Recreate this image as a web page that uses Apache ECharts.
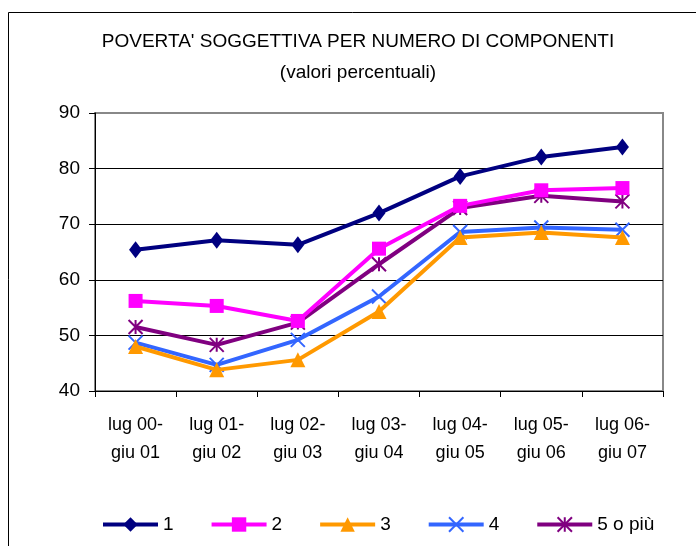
<!DOCTYPE html>
<html lang="it">

<head>
    <meta charset="UTF-8">
    <title>Povertà soggettiva</title>
    <script src="https://cdn.jsdelivr.net/npm/echarts@6/dist/echarts.min.js"></script>
    <style>
        html, body { margin: 0; padding: 0; background: #fff; }
        #app {
            width: 696px;
            height: 546px;
        }
    </style>
</head>

<body>
    <div id="app"></div>
    <script>
        // periodi (asse x)
        let periodi = ['lug 00-\ngiu 01', 'lug 01-\ngiu 02', 'lug 02-\ngiu 03', 'lug 03-\ngiu 04',
            'lug 04-\ngiu 05', 'lug 05-\ngiu 06', 'lug 06-\ngiu 07']
        let nomi = ['1', '2', '3', '4', '5 o più']
        // valori percentuali
        let comp1 = [65.4, 67.1, 66.3, 72.0, 78.6, 82.1, 83.9]
        let comp2 = [56.2, 55.3, 52.6, 65.6, 73.3, 76.1, 76.5]
        let comp3 = [48.0, 43.8, 45.6, 54.3, 67.6, 68.5, 67.6]
        let comp4 = [48.7, 44.7, 49.2, 57.0, 68.6, 69.4, 69.0]
        let comp5 = [51.5, 48.3, 52.3, 62.8, 72.9, 75.1, 74.1]

        let colori = ['#000080', '#ff00ff', '#ff9900', '#3366ff', '#800080']
        let simboli = [
            'diamond',
            'rect',
            'triangle',
            'path://M0,0L10,10M10,0L0,10',
            'path://M5,0L5,10M0,0L10,10M10,0L0,10'
        ]
        let dimensioni = [[13, 17], 14, 15, 14, 14]
        let valori = [comp1, comp2, comp3, comp4, comp5]

        let mCharts = echarts.init(document.getElementById('app'))
        let font = 'Liberation Sans, Arial, sans-serif'

        let series = valori.map((v, i) => {
            let linee = i >= 3
            return {
                name: nomi[i],
                type: 'line',
                data: v,
                symbol: simboli[i],
                symbolSize: dimensioni[i],
                showAllSymbol: true,
                lineStyle: { color: colori[i], width: 4 },
                itemStyle: linee
                    ? { color: colori[i], borderColor: colori[i], borderWidth: 2 }
                    : { color: colori[i], borderWidth: 0 },
                z: 10 - i,
                animation: false
            }
        })

        let option = {
            backgroundColor: '#fff',
            animation: false,
            textStyle: { fontFamily: font },
            title: [{
                text: "POVERTA' SOGGETTIVA PER NUMERO DI COMPONENTI",
                left: 353,
                top: 27,
                textAlign: 'center',
                textStyle: { fontSize: 19, fontWeight: 'normal', color: '#000', fontFamily: font }
            }, {
                text: '(valori percentuali)',
                left: 353,
                top: 58,
                textAlign: 'center',
                textStyle: { fontSize: 19, fontWeight: 'normal', color: '#000', fontFamily: font }
            }],
            grid: {
                left: 95,
                right: 33,
                top: 113,
                bottom: 155,
                show: true,
                backgroundColor: '#fff',
                borderColor: '#888',
                borderWidth: 2
            },
            legend: {
                left: 96,
                top: 510,
                itemWidth: 55,
                itemHeight: 18,
                itemGap: 36,
                lineStyle: { width: 4 },
                textStyle: { fontSize: 19, color: '#000', fontFamily: font },
                data: nomi
            },
            xAxis: {
                type: 'category',
                data: periodi,
                boundaryGap: true,
                axisLine: { lineStyle: { color: '#000', width: 1 } },
                axisTick: { show: true, length: 6, lineStyle: { color: '#000' } },
                axisLabel: {
                    color: '#000',
                    fontSize: 18,
                    lineHeight: 28,
                    margin: 20,
                    interval: 0,
                    fontFamily: font
                }
            },
            yAxis: {
                type: 'value',
                min: 40,
                max: 90,
                interval: 10,
                axisLine: { show: true, lineStyle: { color: '#000', width: 1 } },
                axisTick: { show: true, length: 6, lineStyle: { color: '#000' } },
                axisLabel: { color: '#000', fontSize: 19, margin: 15, fontFamily: font },
                splitLine: {
                    show: true,
                    lineStyle: { color: ['#000', '#000', '#000', '#000', '#000', '#888'], width: 1 }
                }
            },
            graphic: [{
                type: 'rect',
                silent: true,
                shape: { x: 8.5, y: 12.5, width: 720, height: 600 },
                style: { fill: 'none', stroke: '#000', lineWidth: 1 },
                z: -1
            }],
            series: series
        }
        mCharts.setOption(option)
    </script>
</body>

</html>
